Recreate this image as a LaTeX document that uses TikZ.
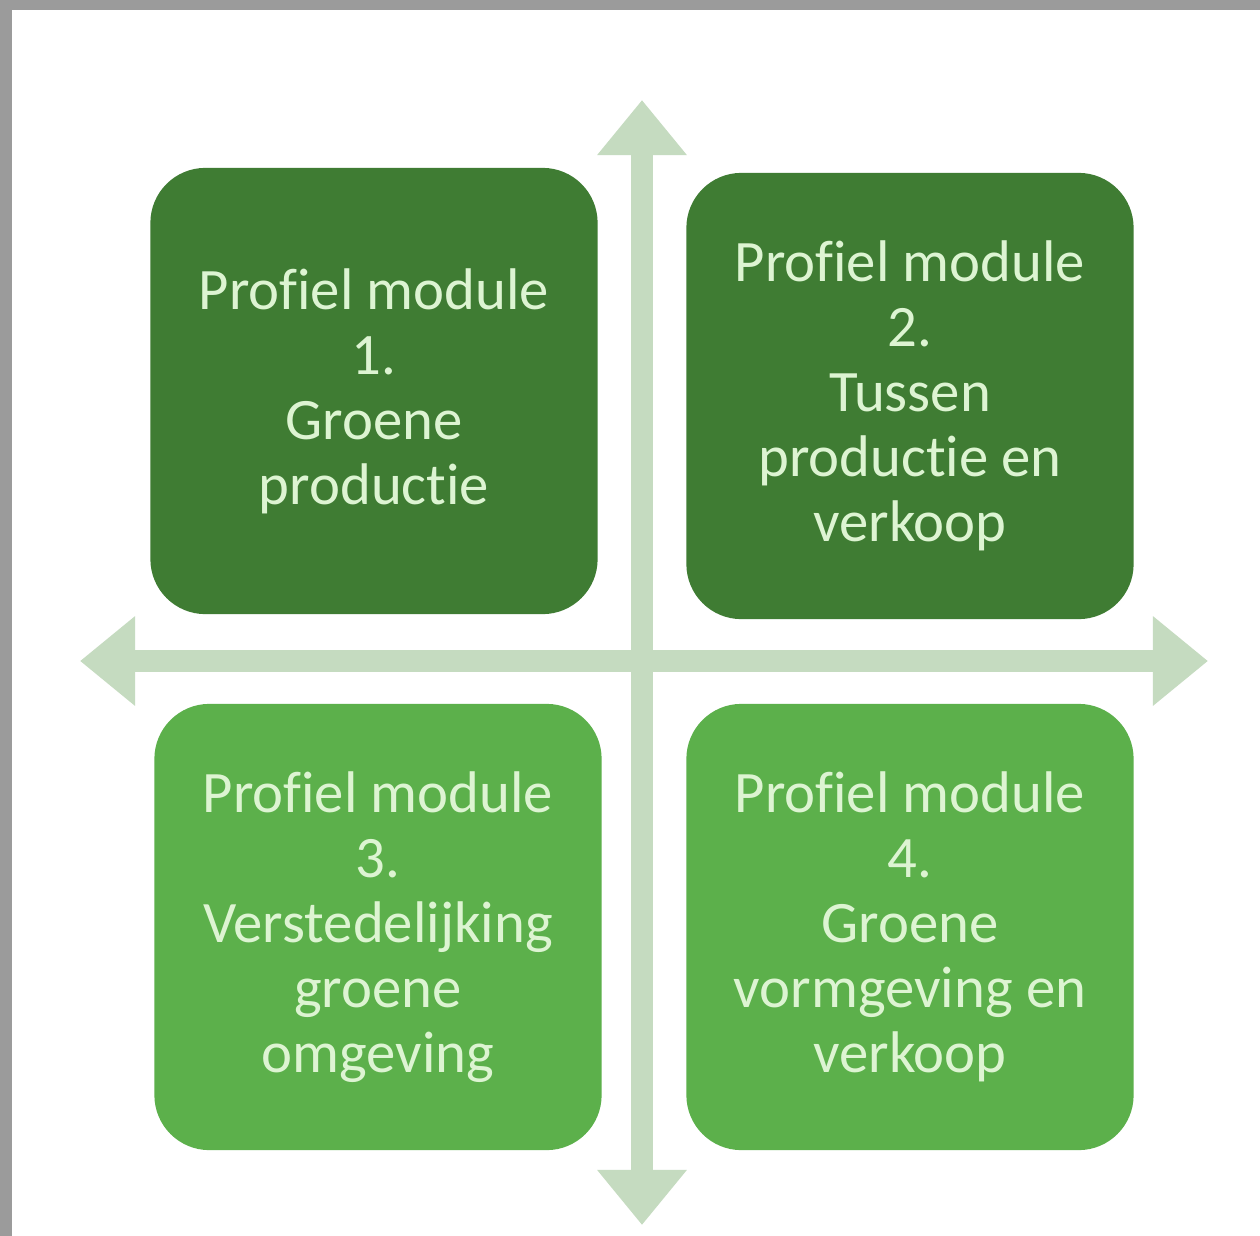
\documentclass[tikz,border=0pt]{standalone}
\usepackage{fontspec}
\setmainfont[Ligatures=NoCommon]{Carlito}
\usetikzlibrary{arrows.meta}
\definecolor{frameGray}{HTML}{9B9B9B}
\definecolor{axisGreen}{HTML}{C5DBC0}
\definecolor{darkGreen}{HTML}{3F7C33}
\definecolor{lightGreen}{HTML}{5CB04B}
\definecolor{textGreen}{HTML}{DDF4D2}
\begin{document}
\begin{tikzpicture}[x=0.01cm,y=-0.01cm,module/.style={shape=rectangle,rounded corners=0.55cm,minimum width=4.47cm,minimum height=4.46cm,inner sep=0pt,align=center,text=textGreen,font=\fontsize{16.7}{18.5}\selectfont},moduleD/.style={module,fill=darkGreen},moduleL/.style={module,fill=lightGreen},axis/.style={axisGreen,line width=0.22cm,{Triangle[width=0.86cm,length=0.55cm]}-{Triangle[width=0.86cm,length=0.55cm]}}]
\useasboundingbox (0,0) rectangle (1260,1236);
\fill[white] (0,0) rectangle (1260,1236);

% screenshot frame
\fill[frameGray] (0,0) rectangle (1260,10);
\fill[frameGray] (0,0) rectangle (12,1236);

% axes
\coordinate (T) at (642,100);
\coordinate (B) at (642,1225);
\coordinate (L) at (80,661);
\coordinate (R) at (1208,661);
\draw[axis] (T) -- (B);
\draw[axis] (L) -- (R);

% modules
\node[moduleD] (M1) at (374,391) {Profiel module\\1.\\Groene\\productie};
\node[moduleD] (M2) at (910,396) {Profiel module\\2.\\Tussen\\productie en\\verkoop};
\node[moduleL] (M3) at (378,927) {Profiel module\\3.\\Verstedelijking\\groene\\omgeving};
\node[moduleL] (M4) at (910,927) {Profiel module\\4.\\Groene\\vormgeving en\\verkoop};
\end{tikzpicture}
\end{document}
